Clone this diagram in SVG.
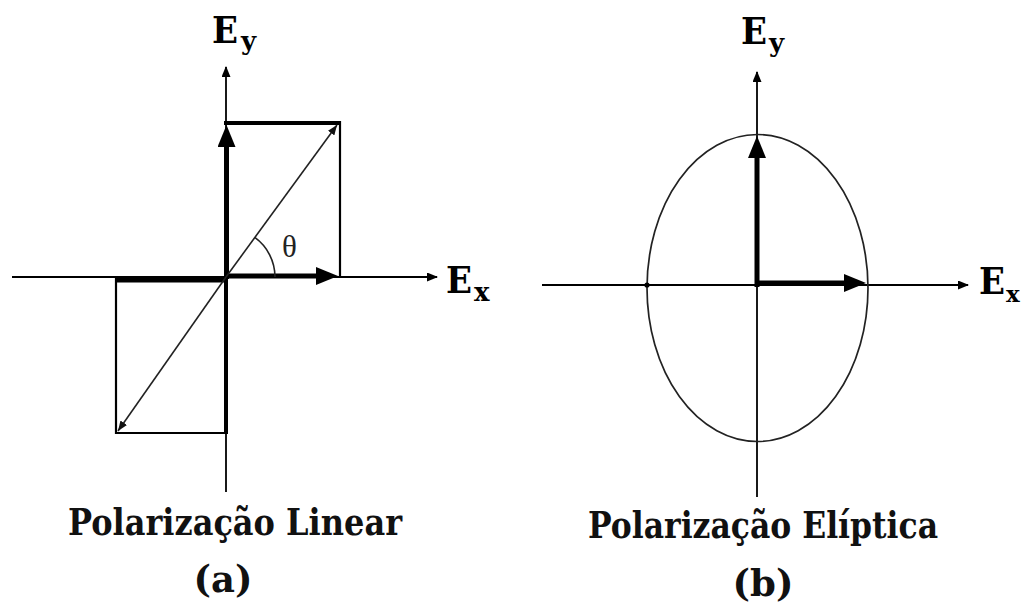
<svg xmlns="http://www.w3.org/2000/svg" width="1022" height="607" viewBox="0 0 1022 607">
<style>
.axis{stroke:#000;stroke-width:1.8;fill:none}
.thick{stroke:#000;stroke-width:5;fill:none}
.edge{stroke:#000;stroke-width:2.2;fill:none}
.thin{stroke:#222;stroke-width:1.6;fill:none}
.lbl{font-family:'DejaVu Serif',serif;font-weight:bold;fill:#000}
.cap{font-family:'DejaVu Serif',serif;font-weight:bold;fill:#111;font-size:37px}
.greek{font-family:'Liberation Serif',serif;fill:#222}
</style>
<defs>
<marker id="ax" markerUnits="userSpaceOnUse" markerWidth="11" markerHeight="9" refX="10" refY="4.5" orient="auto"><path d="M0,0 L11,4.5 L0,9 z" fill="#000"/></marker>
<marker id="vec" markerUnits="userSpaceOnUse" markerWidth="22" markerHeight="18" refX="12" refY="9" orient="auto"><path d="M0,0 L22,9 L0,18 z" fill="#000"/></marker>
<marker id="dg" markerUnits="userSpaceOnUse" markerWidth="10" markerHeight="8" refX="10" refY="4" orient="auto"><path d="M0,0 L10,4 L0,8 z" fill="#111"/></marker>
</defs>

<g id="linear">
  <g id="linear-axes">
    <line class="axis" x1="12" y1="277" x2="437" y2="277" marker-end="url(#ax)"/>
    <line class="axis" x1="226" y1="492" x2="226" y2="67" marker-end="url(#ax)"/>
  </g>
  <g id="linear-rects">
    <line class="thick" x1="224" y1="123" x2="341" y2="123" style="stroke-width:4"/>
    <line class="edge" x1="340" y1="121" x2="340" y2="277"/>
    <line class="thick" x1="115" y1="280" x2="228" y2="280"/>
    <line class="thick" x1="226" y1="277" x2="226" y2="434" style="stroke-width:4"/>
    <line class="edge" x1="116" y1="278" x2="116" y2="434"/>
    <line class="edge" x1="115" y1="433" x2="227" y2="433"/>
  </g>
  <g id="linear-vectors">
    <line class="thick" x1="226.5" y1="279" x2="226.5" y2="135" marker-end="url(#vec)"/>
    <line class="thick" x1="224" y1="276" x2="328" y2="276" marker-end="url(#vec)"/>
    <line class="thin" x1="226" y1="277" x2="337" y2="125" marker-end="url(#dg)"/>
    <line class="thin" x1="226" y1="277" x2="118" y2="431" marker-end="url(#dg)"/>
    <path class="thin" d="M275,277 A49,49 0 0 0 254.8,237.4"/>
  </g>
  <text class="lbl" x="212" y="43" font-size="38" textLength="26" lengthAdjust="spacingAndGlyphs">E</text>
  <text class="lbl" x="241" y="50" font-size="26">y</text>
  <text class="lbl" x="446" y="293" font-size="38" textLength="26" lengthAdjust="spacingAndGlyphs">E</text>
  <text class="lbl" x="474" y="301" font-size="26">x</text>
  <text class="greek" x="282" y="257" font-size="31">θ</text>
  <text class="cap" x="68" y="535" textLength="334" lengthAdjust="spacingAndGlyphs">Polarização Linear</text>
  <text class="cap" x="223" y="592" text-anchor="middle">(a)</text>
</g>

<g id="eliptica">
  <g id="eliptica-axes">
    <line class="axis" x1="542" y1="285" x2="968" y2="285" marker-end="url(#ax)"/>
    <line class="axis" x1="757" y1="497" x2="757" y2="72" marker-end="url(#ax)"/>
  </g>
  <ellipse id="ellipse" cx="757.5" cy="288" rx="110.5" ry="153.5" fill="none" stroke="#222" stroke-width="1.7"/>
  <circle cx="647" cy="285" r="2.6" fill="#000"/>
  <g id="eliptica-vectors">
    <line class="thick" x1="757" y1="287" x2="757" y2="146" marker-end="url(#vec)"/>
    <line class="thick" x1="755" y1="283" x2="856" y2="283" marker-end="url(#vec)"/>
  </g>
  <text class="lbl" x="979" y="294" font-size="38" textLength="26" lengthAdjust="spacingAndGlyphs">E</text>
  <text class="lbl" x="1006" y="302" font-size="23">x</text>
  <text class="lbl" x="741" y="44" font-size="38" textLength="26" lengthAdjust="spacingAndGlyphs">E</text>
  <text class="lbl" x="769" y="52" font-size="26">y</text>
  <text class="cap" x="588" y="538" textLength="350" lengthAdjust="spacingAndGlyphs">Polarização Elíptica</text>
  <text class="cap" x="763" y="596" text-anchor="middle">(b)</text>
</g>
</svg>
